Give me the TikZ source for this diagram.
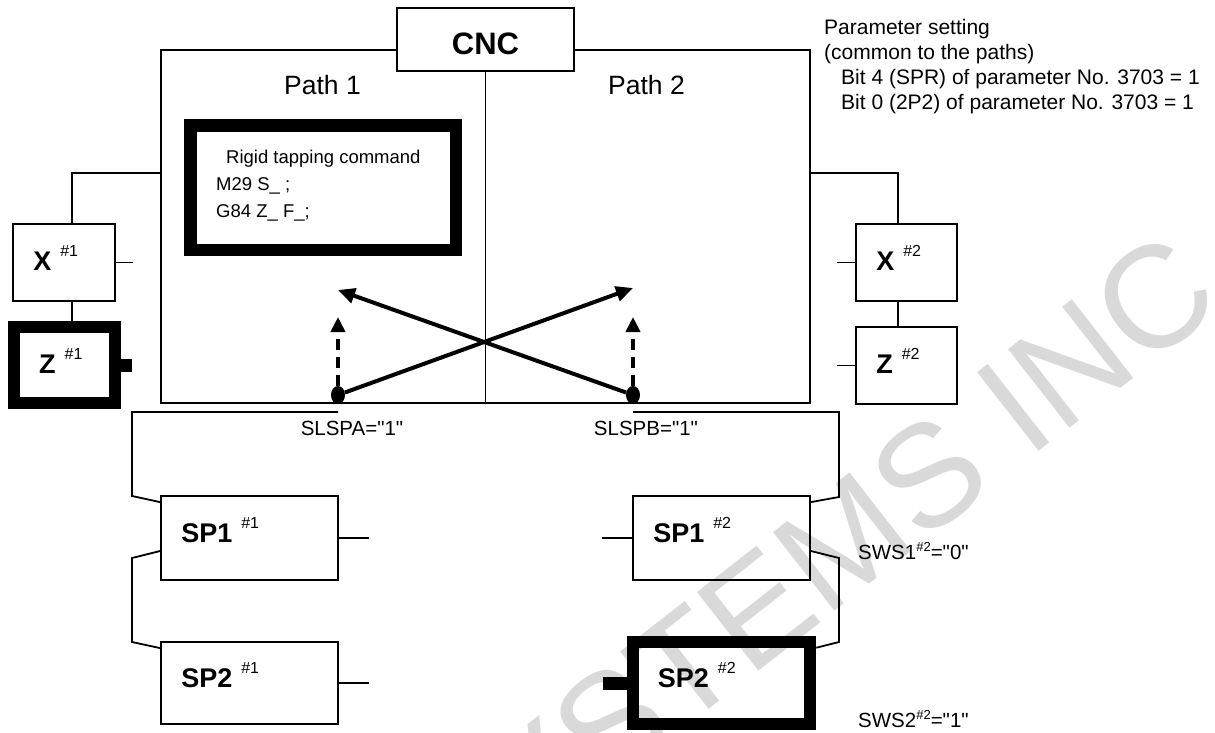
\documentclass[tikz,border=0pt]{standalone}
\usepackage{fontspec}
\setmainfont{Liberation Sans}
% family without the TeX input mapping, so that " stays a straight quote
\newfontfamily\plainquotes{Liberation Sans}
\usetikzlibrary{arrows.meta,calc,shapes.geometric}

% unit label: bold name with a raised path index
\newcommand\unitname[2]{#1\hspace{9pt}{\fontsize{16}{17}\mdseries\selectfont\raisebox{14pt}{#2}}}
% signal name with a tight raised index
\newcommand\sigidx[1]{{\fontsize{13}{14}\selectfont\raisebox{8pt}{#1}}}

\begin{document}
\begin{tikzpicture}[x=1pt,y=-1pt,
  wire/.style={line width=1.8pt},
  blk/.style={draw, line width=1.8pt, inner sep=0pt},
  hblk/.style={draw, line width=12pt, inner sep=0pt},
  unitlbl/.style={anchor=base west, inner sep=0pt, font=\fontsize{27}{30}\selectfont\bfseries},
  pathlbl/.style={anchor=base, inner sep=0pt, font=\fontsize{26.5}{30}\selectfont},
  cmdtxt/.style={anchor=base west, inner sep=0pt, font=\fontsize{18.5}{22}\selectfont},
  sig/.style={inner sep=0pt, font=\plainquotes\fontsize{20.5}{24}\selectfont},
  note/.style={anchor=base west, inner sep=0pt, font=\fontsize{21}{25}\selectfont},
  dot/.style={ellipse, fill, inner sep=0pt, minimum width=14pt, minimum height=18pt},
  selarrow/.style={line width=4pt, -{Triangle[length=17pt,width=15pt]}},
  reqarrow/.style={line width=4pt, dash pattern=on 11pt off 7pt, -{Triangle[length=15pt,width=14pt]}},
]
\fill[white] (0,0) rectangle (1215,733);
\useasboundingbox (0,0) rectangle (1215,733);

% watermark
\node[rotate=38, anchor=base east, inner sep=0pt, text=black!15,
      font=\fontsize{145}{145}\selectfont] (wm) at (1226,306) {SYSTEMS INC};

% CNC frame with the two paths
\node[blk, minimum width=649pt, minimum height=353pt] (frame) at (485.5,226.5) {};
\node[blk, fill=white, minimum width=177pt, minimum height=63pt] (cnc) at (485.5,39.5) {};
\node[anchor=base, inner sep=0pt, font=\fontsize{31}{34}\selectfont\bfseries] (cnclbl) at (485.5,55) {CNC};
\draw[wire] (cnc.south) -- (cnc.south |- frame.south);
\node[pathlbl] (p1) at (322.5,95) {Path 1};
\node[pathlbl] (p2) at (646.5,95) {Path 2};

% program command in path 1
\node[hblk, line width=12.5pt, minimum width=265.5pt, minimum height=124.5pt] (cmd) at (323.25,187.75) {};
\node[cmdtxt] (cmd1) at (226,163) {Rigid tapping command};
\node[cmdtxt] (cmd2) at (216,190) {M29 S\_ ;};
\node[cmdtxt] (cmd3) at (216,217) {G84 Z\_ F\_;};

% parameter setting
\node[note] (par1) at (824,35) {Parameter setting};
\node[note] (par2) at (824,60) {(common to the paths)};
\node[note] (par3) at (841,85) {Bit 4 (SPR) of parameter No. 3703 = 1};
\node[note] (par4) at (841,110) {Bit 0 (2P2) of parameter No. 3703 = 1};

% feed axes of path 1
\node[blk, minimum width=102pt, minimum height=77pt] (X1) at (64,262.5) {};
\node[hblk, minimum width=101pt, minimum height=76pt] (Z1) at (64.5,365) {};
\node[unitlbl] (X1l) at ($(X1.west)+(21,8)$) {\unitname{X}{\#1}};
\node[unitlbl] (Z1l) at ($(Z1.west)+(31,8)$) {\unitname{Z}{\#1}};
\draw[wire] (frame.west |- 0,173) -| ($(X1.north)+(8,0)$);
\draw[wire] ($(X1.south)+(8,0)$) -- ($(Z1.north)+(7.5,0)$);
\draw[wire] (X1.east) -- ++(17,0);
\fill ($(Z1.east)+(0,-6.5)$) rectangle ++(11,13);

% feed axes of path 2
\node[blk, minimum width=101pt, minimum height=77pt] (X2) at (906.5,262.5) {};
\node[blk, minimum width=101pt, minimum height=77pt] (Z2) at (906.5,365.5) {};
\node[unitlbl] (X2l) at ($(X2.west)+(21,8)$) {\unitname{X}{\#2}};
\node[unitlbl] (Z2l) at ($(Z2.west)+(21,8)$) {\unitname{Z}{\#2}};
\draw[wire] (frame.east |- 0,173) -| ($(X2.north)+(-8.5,0)$);
\draw[wire] ($(X2.south)+(-8.5,0)$) -- ($(Z2.north)+(-8.5,0)$);
\draw[wire] (X2.west) -- ++(-18,0);
\draw[wire] (Z2.west) -- ++(-18,0);

% spindle selection switches
\node[dot] (dA) at (338,395) {};
\node[dot] (dB) at (633,395) {};
\coordinate (tA) at (338,290);
\coordinate (tB) at (633,288);
\coordinate (uA) at (338,317);
\coordinate (uB) at (633,317);
\draw[selarrow] (dA) -- (tB);
\draw[selarrow] (dB) -- (tA);
\draw[reqarrow] (dA) -- (uA);
\draw[reqarrow] (dB) -- (uB);
\node[sig, anchor=base] (slA) at (352,435) {SLSPA="1"};
\node[sig, anchor=base] (slB) at (646,435) {SLSPB="1"};

% spindles
\node[blk, minimum width=177pt, minimum height=84pt] (SP11) at (249.5,538) {};
\node[blk, minimum width=177pt, minimum height=82pt] (SP21) at (249.5,683) {};
\node[blk, minimum width=177pt, minimum height=84pt] (SP12) at (721.5,538) {};
\node[hblk, line width=12.5pt, minimum width=177pt, minimum height=82pt] (SP22) at (721.5,683) {};
\node[unitlbl] (SP11l) at ($(SP11.west)+(21,4)$) {\unitname{SP1}{\#1}};
\node[unitlbl] (SP21l) at ($(SP21.west)+(21,4)$) {\unitname{SP2}{\#1}};
\node[unitlbl] (SP12l) at ($(SP12.west)+(21,4)$) {\unitname{SP1}{\#2}};
\node[unitlbl] (SP22l) at ($(SP22.west)+(31,4)$) {\unitname{SP2}{\#2}};
\draw[wire] (SP11.east) -- ++(30,0);
\draw[wire] (SP21.east) -- ++(30,0);
\draw[wire] (SP12.west) -- ++(-30,0);
\fill ($(SP22.west)+(0,-6.5)$) rectangle ++(-24,13);

% spindle connections
\draw[wire] (dA |- 0,412) -| (132,496) -- ($(SP11.north west)+(0,7)$);
\draw[wire] ($(SP11.west)+(0,13)$) -- (132,558) -- (132,642) -- ($(SP21.north west)+(0,7)$);
\draw[wire] (dB |- 0,412) -| (839,497) -- ($(SP12.north east)+(0,7)$);
\draw[wire] ($(SP12.east)+(0,13)$) -- (839,558) -- (839,642) -- ($(SP22.north east)+(0,12)$);

% spindle selection signals
\node[sig, anchor=base west] (sws1) at (858,559) {SWS1\sigidx{\#2}="0"};
\node[sig, anchor=base west] (sws2) at (858,727) {SWS2\sigidx{\#2}="1"};
\end{tikzpicture}
\end{document}
